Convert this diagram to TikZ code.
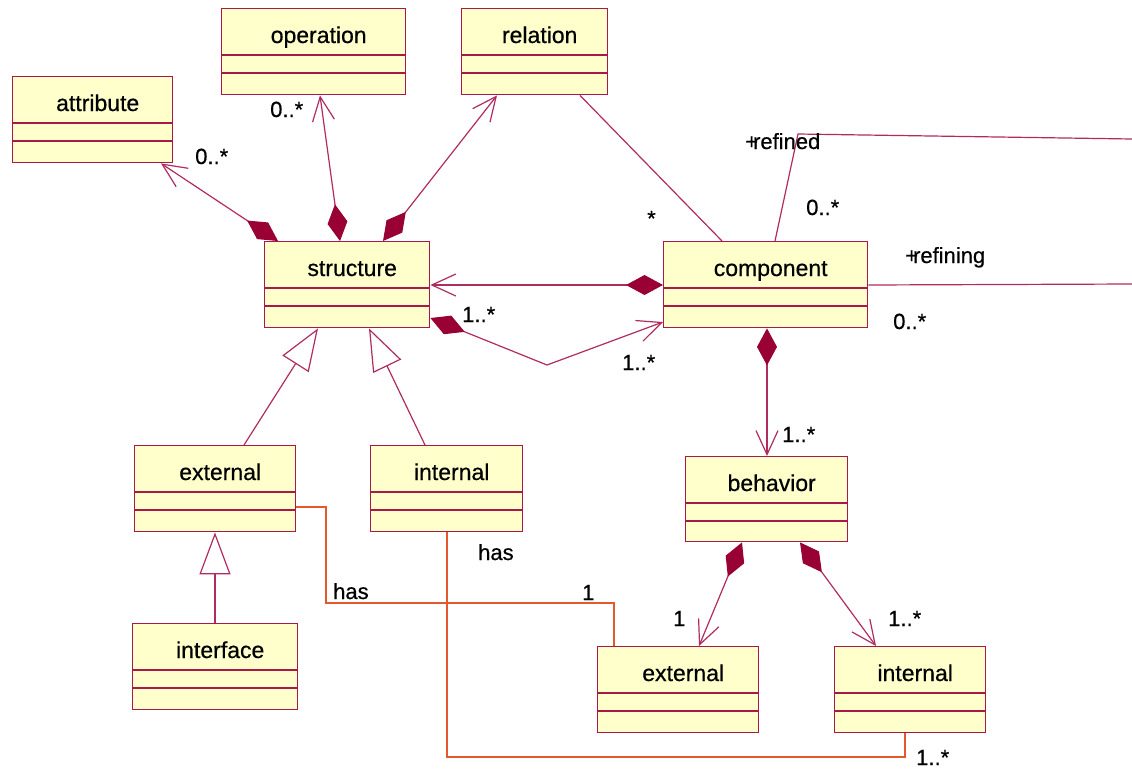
\documentclass[tikz,border=0pt]{standalone}
\usepackage{fontspec}
\setmainfont{Liberation Sans}[FakeBold=0.5]
\usetikzlibrary{arrows.meta,calc}

\definecolor{umlborder}{RGB}{168,24,72}
\definecolor{umlline}{RGB}{176,44,96}
\definecolor{umldia}{RGB}{153,0,51}
\definecolor{umlfill}{RGB}{255,255,204}
\definecolor{hascolor}{RGB}{228,88,44}

\tikzset{
  classbox/.style={draw=umlborder, fill=umlfill, line width=1.4pt, inner sep=0pt, anchor=north west},
  compline/.style={draw=umlborder, line width=1.2pt},
  classname/.style={font=\fontsize{23}{27}\selectfont, anchor=base, inner sep=0pt},
  mult/.style={font=\fontsize{22}{26}\selectfont, anchor=base west, inner sep=0pt},
  assoc/.style={draw=umlline, line width=1.2pt},
  composite/.style={assoc, {Diamond[length=37pt,width=20pt,color=umldia,fill=umldia]}-{Straight Barb[length=24pt,width=22pt]}},
  gen/.style={assoc, -{Triangle[open,length=42pt,width=31pt,fill=white]}},
  haslink/.style={draw=hascolor, line width=1.2pt},
}

% class box: name, left, top, right, bottom, title
\newcommand{\umlclass}[6]{%
  \node[classbox, minimum width={(#4-#2)*1pt}, minimum height={(#5-#3)*1pt}] (#1) at (#2,#3) {};
  \draw[compline] ([yshift=-47pt]#1.north west) -- ([yshift=-47pt]#1.north east);
  \draw[compline] ([yshift=-65pt]#1.north west) -- ([yshift=-65pt]#1.north east);
  \node[classname] (#1-title) at ([xshift=5pt,yshift=-35pt]#1.north) {#6};
}

\begin{document}
\begin{tikzpicture}[x=1pt,y=-1pt]
\useasboundingbox (0,0) rectangle (1132,769);
\fill[white] (0,0) rectangle (1132,769);

% classes
\umlclass{attr}{12}{76}{172}{162}{attribute}
\umlclass{oper}{221}{8}{405}{94}{operation}
\umlclass{rel}{461}{8}{607}{94}{relation}
\umlclass{struct}{264}{241}{429}{327}{structure}
\umlclass{comp}{663}{241}{867}{327}{component}
\umlclass{beh}{685}{456}{847}{541}{behavior}
\umlclass{sext}{134}{445}{295}{531}{external}
\umlclass{sint}{370}{445}{522}{531}{internal}
\umlclass{iface}{132}{623}{297}{709}{interface}
\umlclass{bext}{597}{646}{758}{732}{external}
\umlclass{bint}{834}{646}{985}{732}{internal}

% helper points for bends and free ends
\coordinate (kink) at (547,365);
\coordinate (refbend) at (798,134);
\coordinate (refend) at (1132,139);
\coordinate (refiningend) at (1132,284);
\coordinate (hasA) at (326,603);
\coordinate (hasB) at (447,757);

% compositions
\draw[composite] ($(struct.north west)+(14,0)$) -- ($(attr.south west)+(149,0)$);
\draw[composite] ($(struct.north west)+(76,0)$) -- ($(oper.south west)+(99,0)$);
\draw[composite] ($(struct.north west)+(119,0)$) -- ($(rel.south west)+(36,0)$);
\draw[composite] ($(comp.north west)+(0,44)$) -- ($(struct.north east)+(0,44)$);
\draw[composite] ($(struct.north east)+(0,77)$) -- (kink) -- ($(comp.north west)+(0,81)$);
\draw[composite] ($(comp.south west)+(104,0)$) -- ($(beh.north west)+(82,0)$);
\draw[composite] ($(beh.south west)+(57,0)$) -- ($(bext.north west)+(102,0)$);
\draw[composite] ($(beh.south west)+(115,0)$) -- ($(bint.north west)+(42,0)$);

% plain associations
\draw[assoc] ($(rel.south west)+(119,0)$) -- ($(comp.north west)+(59,0)$);
\draw[assoc] ($(comp.north west)+(112,0)$) -- (refbend) -- (refend);
\draw[assoc] ($(comp.north east)+(0,44)$) -- (refiningend);

% generalizations
\draw[gen] ($(sext.north west)+(110,0)$) -- ($(struct.south west)+(54,0)$);
\draw[gen] ($(sint.north west)+(55,0)$) -- ($(struct.south west)+(105,0)$);
\draw[gen] ($(iface.north west)+(83,0)$) -- ($(sext.south west)+(81,0)$);

% "has" links
\draw[haslink] ($(sext.north east)+(0,62)$) -| (hasA) -| ($(bext.north west)+(17,0)$);
\draw[haslink] ($(sint.south west)+(77,0)$) -- (hasB) -| ($(bint.south west)+(71,0)$);

% multiplicities and role names
\node[mult] (m1) at (195,164) {0..*};
\node[mult] (m2) at (270,117) {0..*};
\node[mult] (m3) at (647,226) {*};
\node[mult] (m4) at (745,149) {+\kern-5pt refined};
\node[mult] (m5) at (806,215) {0..*};
\node[mult] (m6) at (905,263) {+\kern-5pt refining};
\node[mult] (m7) at (893,329) {0..*};
\node[mult] (m8) at (462,322) {1..*};
\node[mult] (m9) at (622,370) {1..*};
\node[mult] (m10) at (782,442) {1..*};
\node[mult] (m11) at (333,599) {has};
\node[mult] (m12) at (478,560) {has};
\node[mult] (m13) at (582,600) {1};
\node[mult] (m14) at (673,626) {1};
\node[mult] (m15) at (888,626) {1..*};
\node[mult] (m16) at (916,765) {1..*};
\end{tikzpicture}
\end{document}
